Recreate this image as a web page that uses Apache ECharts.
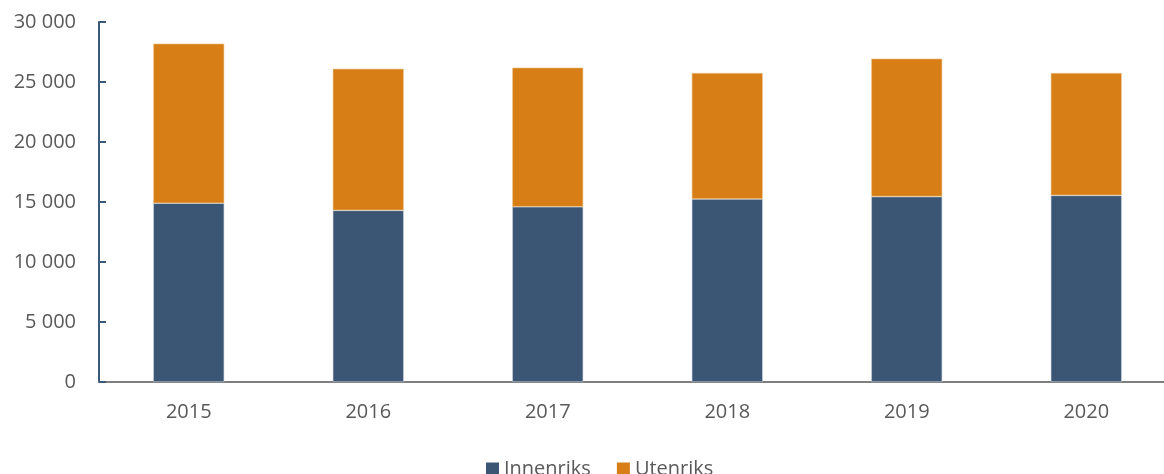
<!DOCTYPE html>
<html>
<head>
<meta charset="utf-8">
<script src="https://cdn.jsdelivr.net/npm/echarts@6/dist/echarts.min.js"></script>
<style>
  html, body { margin: 0; padding: 0; background: #fff; }
  #main { width: 1164px; height: 474px; }
</style>
</head>
<body>
<div id="main"></div>
<script type="text/javascript">
    // data
    var years = ['2015', '2016', '2017', '2018', '2019', '2020'];
    var innenriks = [14900, 14300, 14600, 15250, 15450, 15550];
    var utenriks = [13300, 11800, 11600, 10500, 11500, 10200];
    var yTicks = [0, 5000, 10000, 15000, 20000, 25000, 30000];

    var myChart = echarts.init(document.getElementById('main'));

    var font = '"Open Sans", "Noto Sans", sans-serif';

    function fmt(v) {  // 30 000 style
        return String(v).replace(/\B(?=(\d{3})+(?!\d))/g, ' ');
    }

    var option = {
        backgroundColor: '#fff',
        animation: false,
        textStyle: { fontFamily: font },
        // plot area runs a bit past the right edge of the picture
        grid: { left: 99, top: 22, right: -12, bottom: 92, containLabel: false, outerBoundsMode: 'none' },
        legend: {
            data: ['Innenriks', 'Utenriks'],
            left: 481,
            top: 454,
            itemWidth: 13,
            itemHeight: 13,
            itemGap: 26,
            icon: 'rect',
            itemStyle: { borderWidth: 0 },
            textStyle: { color: '#595959', fontSize: 20, fontFamily: font }
        },
        xAxis: {
            type: 'category',
            data: years,
            axisLine: { lineStyle: { color: '#7f7f7f', width: 2 } },
            axisTick: { show: false },
            axisLabel: { color: '#595959', fontSize: 20, margin: 20, fontFamily: font }
        },
        yAxis: {
            type: 'value',
            min: yTicks[0],
            max: yTicks[yTicks.length - 1],
            interval: 5000,
            axisLine: { show: true, lineStyle: { color: '#3b5a7a', width: 2 } },
            axisTick: { show: true, inside: true, length: 7, lineStyle: { color: '#3b5a7a', width: 2 } },
            splitLine: { show: false },
            axisLabel: { color: '#595959', fontSize: 20, margin: 23, fontFamily: font, formatter: fmt }
        },
        series: [{
            name: 'Innenriks',
            type: 'bar',
            stack: 'tot',
            barWidth: 71,
            data: innenriks,
            itemStyle: { color: '#3a5674', borderColor: '#c9d2dc', borderWidth: 0.6 }
        }, {
            name: 'Utenriks',
            type: 'bar',
            stack: 'tot',
            barWidth: 71,
            data: utenriks,
            itemStyle: { color: '#d77e17', borderColor: '#f0c790', borderWidth: 0.6 }
        }]
    };

    myChart.setOption(option);
</script>
</body>
</html>
